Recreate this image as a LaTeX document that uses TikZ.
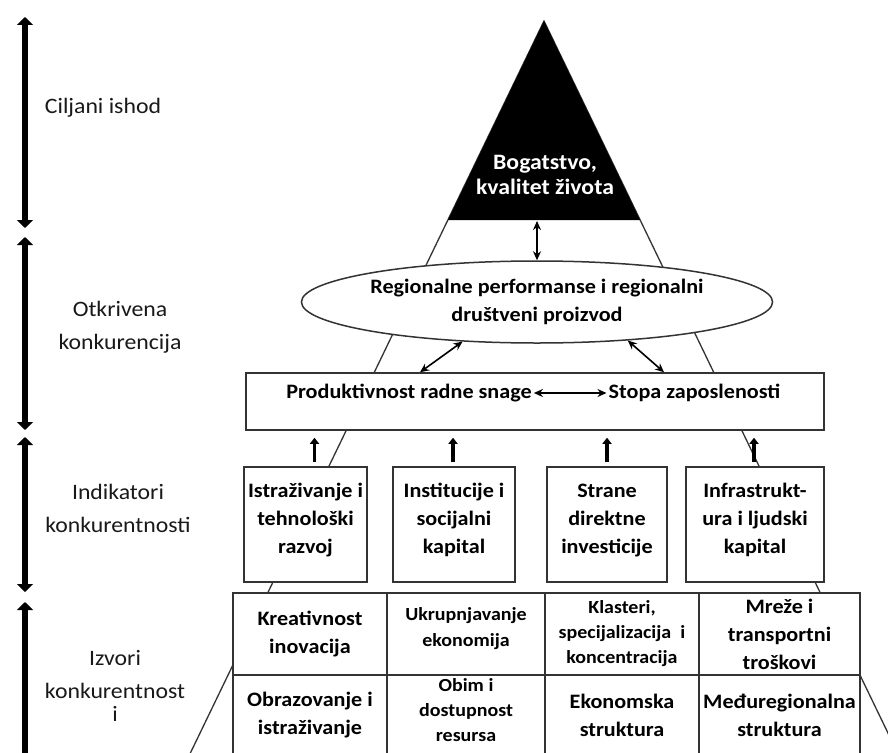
\documentclass[tikz,border=0pt]{standalone}
\usepackage{fontspec}
\setmainfont{Carlito}[FakeStretch=1.08]
\usetikzlibrary{shapes.geometric,arrows.meta,calc}

\begin{document}
\begin{tikzpicture}[x=1pt,y=-1pt,
  pyr/.style={draw=black!80, line width=1.3pt},
  cell/.style={draw=black!80, line width=1.5pt, fill=white, align=center,
    inner sep=0pt, font=\bfseries\fontsize{20.5}{28}\selectfont, text=black},
  small/.style={font=\bfseries\fontsize{18.5}{25}\selectfont},
  side/.style={align=center, font=\fontsize{22}{33}\selectfont, text=black!90},
  span/.style={line width=6.5pt, {Triangle[width=16pt,length=8pt]}-{Triangle[width=16pt,length=8pt]}},
  dbl/.style={line width=1.6pt, {Stealth[length=9pt,width=8pt]}-{Stealth[length=9pt,width=8pt]}},
  feed/.style={line width=3.5pt, -{Triangle[width=9pt,length=6pt]}},
  plain/.style={font=\bfseries\fontsize{20.5}{28}\selectfont, text=black, inner sep=2pt},
]
\useasboundingbox (0,0) rectangle (888,752);
\clip (0,0) rectangle (888,752);
\fill[white] (0,0) rectangle (888,752);

% pyramid outline behind everything
\coordinate (apex) at (544,21);
\coordinate (footL) at (187,760);
\coordinate (footR) at (901,760);
\draw[pyr] (footL) -- (apex) -- (footR);

% black tip of the pyramid
\fill[black] (apex) -- (448,220) -- (640,220) -- cycle;
\node[font=\bfseries\fontsize{22}{25}\selectfont, text=white, align=center] (wealth) at (545,175) {Bogatstvo,\\kvalitet života};
\coordinate (tribase) at (537,221);

% regional performance
\node[ellipse, draw=black!80, line width=1.5pt, fill=white, minimum width=428pt,
  minimum height=82pt, inner sep=0pt, align=center,
  font=\bfseries\fontsize{20.5}{28}\selectfont, text=black] (perf) at (537,302)
  {Regionalne performanse i regionalni\\društveni proizvod};
\draw[dbl] (tribase) -- (perf.north);

% productivity / employment
\node[cell, minimum width=578pt, minimum height=57pt] (prod) at (535,401.5) {};
\node[plain] (lab) at (409,393) {Produktivnost radne snage};
\node[plain] (emp) at (694.5,393) {Stopa zaposlenosti};
\draw[dbl] (lab) -- (emp);
\draw[dbl] (perf.208) -- ($(prod.north)+(-115,0)$);
\draw[dbl] (perf.337) -- ($(prod.north)+(129,0)$);

% indicators
\node[cell, minimum width=123pt, minimum height=115pt] (ind1) at (305.5,524.5) {Istraživanje i\\tehnološki\\razvoj\\[-16pt]\mbox{}};
\node[cell, minimum width=122pt, minimum height=115pt] (ind2) at (454,524.5) {Institucije i\\socijalni\\kapital\\[-16pt]\mbox{}};
\node[cell, minimum width=120pt, minimum height=115pt] (ind3) at (607,524.5) {Strane\\direktne\\investicije\\[-16pt]\mbox{}};
\node[cell, minimum width=138pt, minimum height=115pt] (ind4) at (755,524.5) {Infrastrukt-\\ura i ljudski\\kapital\\[-16pt]\mbox{}};

\coordinate (f1) at ($(ind1.north)+(9,0)$);
\coordinate (f2) at ($(ind2.north)+(-1,0)$);
\coordinate (f3) at (ind3.north);
\coordinate (f4) at ($(ind4.north)+(-1,0)$);
\foreach \f in {f1,f2,f3,f4}
  \draw[feed, shorten <=4pt, shorten >=7pt] (\f) -- (\f |- prod.south);

% sources
\node[cell, minimum width=154pt, minimum height=82pt] (s11) at (310,634) {Kreativnost\\inovacija};
\node[cell, small, minimum width=158pt, minimum height=82pt] (s12) at (466,634) {Ukrupnjavanje\\ekonomija\\[-11pt]\mbox{}};
\node[cell, small, minimum width=154pt, minimum height=82pt] (s13) at (622,634) {Klasteri,\\specijalizacija\ \ i\\koncentracija};
\node[cell, minimum width=161pt, minimum height=82pt] (s14) at (779.5,634) {Mreže i\\transportni\\troškovi};
\node[cell, minimum width=154pt, minimum height=80pt] (s21) at (310,715) {Obrazovanje i\\istraživanje};
\node[cell, small, minimum width=158pt, minimum height=80pt] (s22) at (466,715) {Obim i\\dostupnost\\resursa\\[-14pt]\mbox{}};
\node[cell, minimum width=154pt, minimum height=80pt] (s23) at (622,715) {Ekonomska\\struktura};
\node[cell, minimum width=161pt, minimum height=80pt] (s24) at (779.5,715) {Međuregionalna\\struktura};

% level scale on the left
\coordinate (a1t) at (25,17);  \coordinate (a1b) at (25,228);
\coordinate (a2t) at (25,237); \coordinate (a2b) at (25,430);
\coordinate (a3t) at (25,437); \coordinate (a3b) at (25,592);
\coordinate (a4t) at (25,602); \coordinate (a4b) at (25,775);
\draw[span] (a1t) -- (a1b);
\draw[span] (a2t) -- (a2b);
\draw[span] (a3t) -- (a3b);
\draw[span] (a4t) -- (a4b);

\node[side] (goal) at (103,108) {Ciljani ishod};
\node[side] (revealed) at (120,327) {Otkrivena\\konkurencija};
\node[side] (indic) at (118,508) {Indikatori\\konkurentnosti};
\node[side] (sources) at (115,686) {Izvori\\konkurentnost\\[-10pt]i};
\end{tikzpicture}
\end{document}
